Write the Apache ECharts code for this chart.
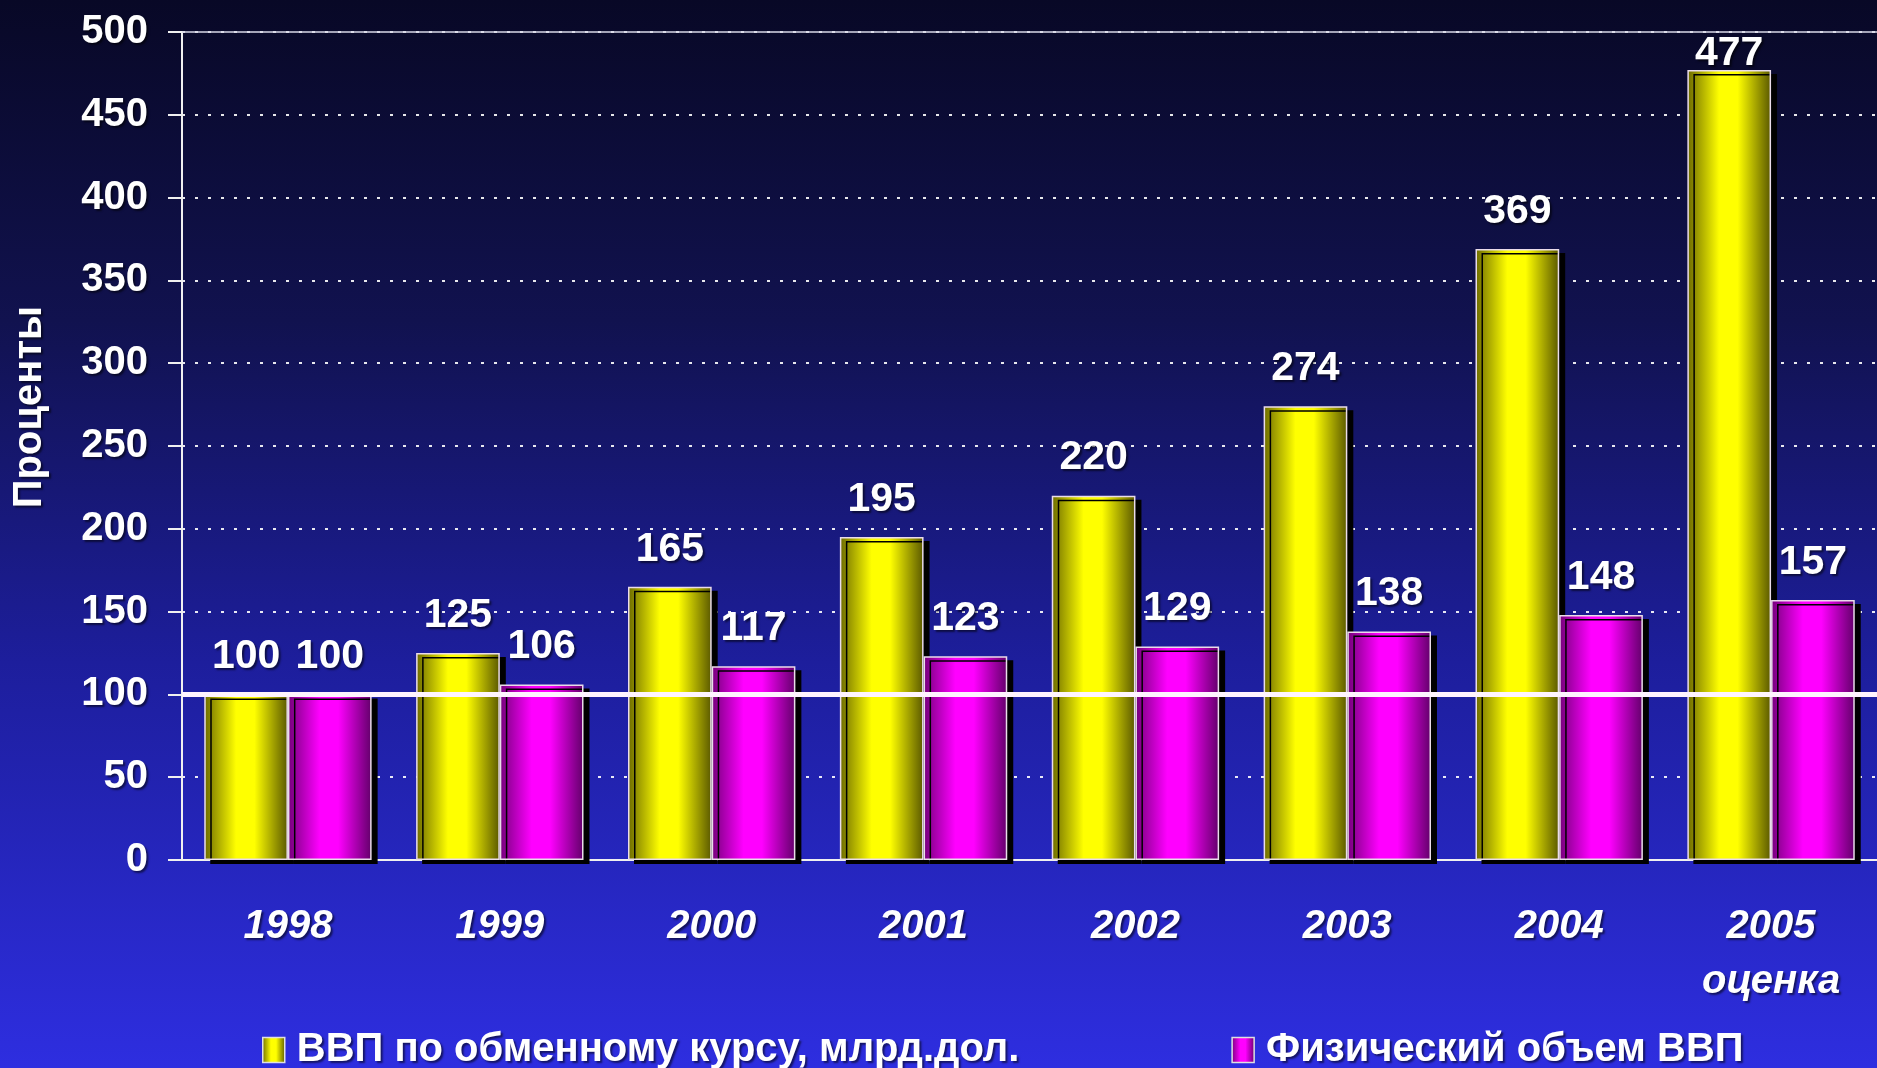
<!DOCTYPE html>
<html>
<head>
<meta charset="utf-8">
<script src="https://cdn.jsdelivr.net/npm/echarts@6/dist/echarts.min.js"></script>
<style>
    html, body { margin: 0; padding: 0; }
    #chart {
        width: 1877px;
        height: 1068px;
        background: linear-gradient(to bottom, #080826 0%, #11124f 30%, #1d1e9c 62%, #2e2ee0 100%);
    }
</style>
</head>
<body>
<div id="chart"></div>
<script>
const years = ['1998', '1999', '2000', '2001', '2002', '2003', '2004', '2005\nоценка'];
const gdpUsd = [100, 125, 165, 195, 220, 274, 369, 477];
const gdpReal = [100, 106, 117, 123, 129, 138, 148, 157];
const seriesNames = ['ВВП по обменному курсу, млрд.дол.', 'Физический объем ВВП'];
const yTicks = { min: 0, max: 500, interval: 50 };

const FONT = '"Liberation Sans", Arial, sans-serif';

const shadowText = {
    textShadowColor: 'rgba(0,0,0,0.55)',
    textShadowBlur: 2,
    textShadowOffsetX: 2,
    textShadowOffsetY: 2,
};

const barGradient = (edgeL, mid, edgeR) => ({
    type: 'linear', x: 0, y: 0, x2: 1, y2: 0,
    colorStops: [
        { offset: 0, color: edgeL },
        { offset: 0.38, color: mid },
        { offset: 0.6, color: mid },
        { offset: 1, color: edgeR },
    ],
});

/** labels near the top of the axis get pulled down onto the bar */
const toData = (values) => values.map((v) => {
    if (v > yTicks.max - 40) {
        return { value: v, label: { distance: -4 } };
    }
    return v;
});

const makeSeries = (name, values, fill) => ({
    name: name,
    type: 'bar',
    data: toData(values),
    barGap: '0%',
    barCategoryGap: '21%',
    itemStyle: {
        color: fill,
        borderColor: '#eadcea',
        borderWidth: 1.5,
        shadowColor: '#000',
        shadowBlur: 0,
        shadowOffsetX: 6,
        shadowOffsetY: 4,
    },
    label: {
        show: true,
        position: 'top',
        distance: 17,
        color: '#fff',
        fontFamily: FONT,
        fontWeight: 'bold',
        fontSize: 41,
        ...shadowText,
    },
});

const chart = echarts.init(document.getElementById('chart'));

const yellow = makeSeries(seriesNames[0], gdpUsd, barGradient('#6c6a00', '#ffff00', '#5a5800'));
const magenta = makeSeries(seriesNames[1], gdpReal, barGradient('#74007a', '#ff00ff', '#62006a'));
magenta.markLine = {
    silent: true,
    symbol: 'none',
    label: { show: false },
    data: [
        { yAxis: 100, lineStyle: { color: '#fff4ff', width: 5, type: 'solid' } },
        { yAxis: yTicks.max, lineStyle: { color: '#d8d8e8', width: 1.5, type: 'solid' } },
    ],
};

chart.setOption({
    backgroundColor: 'transparent',
    animation: false,
    grid: { left: 182, right: 0, top: 32, bottom: 208 },
    legend: {
        left: 257,
        top: 1025,
        itemWidth: 22,
        itemHeight: 25,
        itemGap: 212,
        icon: 'rect',
        itemStyle: { shadowColor: 'transparent', borderColor: '#e0e0e0', borderWidth: 1.5 },
        textStyle: {
            color: '#fff',
            fontFamily: FONT,
            fontWeight: 'bold',
            fontSize: 40,
            padding: [0, 0, 0, 7],
            ...shadowText,
        },
    },
    xAxis: {
        type: 'category',
        data: years,
        axisLine: { lineStyle: { color: '#f0f0f0', width: 2 } },
        axisTick: { length: 14, lineStyle: { color: '#f0f0f0', width: 2 } },
        axisLabel: {
            margin: 39,
            color: '#fff',
            fontFamily: FONT,
            fontWeight: 'bold',
            fontStyle: 'italic',
            fontSize: 40,
            lineHeight: 55,
            ...shadowText,
        },
    },
    yAxis: {
        type: 'value',
        min: yTicks.min,
        max: yTicks.max,
        interval: yTicks.interval,
        name: 'Проценты',
        nameLocation: 'middle',
        nameGap: 132,
        nameTextStyle: {
            color: '#fff',
            fontFamily: FONT,
            fontWeight: 'bold',
            fontSize: 40,
            padding: [0, 0, 0, 78],
            ...shadowText,
        },
        axisLine: { show: true, lineStyle: { color: '#f0f0f0', width: 2 } },
        axisTick: { show: true, length: 14, lineStyle: { color: '#f0f0f0', width: 2 } },
        axisLabel: {
            margin: 34,
            color: '#fff',
            fontFamily: FONT,
            fontWeight: 'bold',
            fontSize: 40,
            ...shadowText,
        },
        splitLine: {
            lineStyle: { color: 'rgba(255,255,255,0.9)', width: 2, type: [3, 10] },
        },
    },
    series: [yellow, magenta],
});
</script>
</body>
</html>
